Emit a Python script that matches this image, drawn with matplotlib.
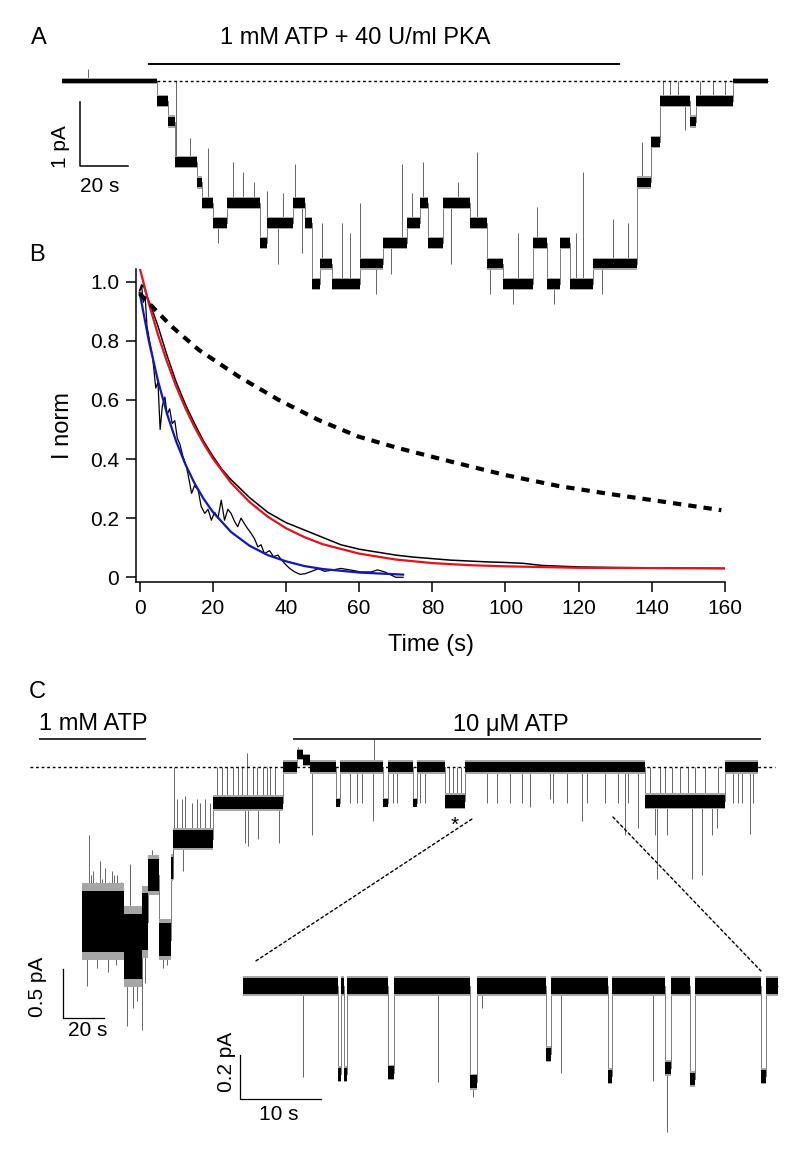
import numpy as np
import matplotlib.pyplot as plt
from matplotlib.patches import ConnectionPatch

plt.rcParams['font.family'] = ['Liberation Sans', 'DejaVu Sans']

# ---- panel A: patch recording, open channels vs time (s) ----
a_unit = 0.317  # pA per channel
a_t = [0, 39.6, 44.2, 47.1, 56.3, 58.3, 62.9, 68.8, 82.5, 85.4, 96.3, 101.3, 104.2, 107.5,
       112.5, 124.2, 133.8, 143.8, 149.2, 152.5, 158.8, 170.0, 177.1, 183.8, 196.3, 202.1,
       207.5, 211.7, 221.3, 239.6, 245.4, 249.2, 261.7, 264.2, 279.6, 294.2]
a_n = [0, 1, 2, 4, 5, 6, 7, 6, 8, 7, 6, 7, 10, 9, 10, 9, 8, 7, 6, 8, 6, 7, 9, 10, 8, 10,
       8, 10, 9, 5, 3, 1, 2, 1, 0]
a_spike_t = [10.8, 47.5, 53.3, 60.8, 65, 71.3, 75.4, 80, 85.4, 90, 92, 97, 100, 108.3, 116.7,
             120, 124.2, 131, 137, 141.7, 146, 150.4, 162, 165, 172.9, 178.3, 188, 190, 197.9,
             205, 214, 217, 225, 229.6, 236, 241.7, 250.4, 253.3, 256.7, 259.6, 265.8, 271.3, 276.3]
a_spike_n = [-0.6, 0, 2.8, 3.3, 8, 4, 4.5, 5, 5.4, 9, 5.5, 4.1, 8.5, 7, 7,
             7.5, 6, 10.5, 9.5, 4.1, 5.5, 4, 9, 5, 3.5, 10.5, 11, 7.5, 6.2,
             11, 7.5, 4.5, 10.5, 6.8, 7, 3, 0, 0, 0, 2.4, 0, 0, 0]

# ---- panel B: normalised current decay ----
b_fit_t = [0, 2.5, 5, 7.5, 10, 12.5, 15, 17.5, 20, 25, 30, 35, 40, 45, 50, 60, 70, 80, 90,
           100, 120, 140, 160]
b_red = [1.047, 0.927, 0.821, 0.728, 0.645, 0.572, 0.508, 0.452, 0.402, 0.319, 0.255, 0.205,
         0.166, 0.136, 0.112, 0.080, 0.060, 0.048, 0.041, 0.037, 0.032, 0.031, 0.030]
b_blue_t = [0, 2.5, 5, 7.5, 10, 12.5, 15, 17.5, 20, 25, 30, 35, 40, 45, 50, 60, 72]
b_blue = [0.963, 0.800, 0.665, 0.552, 0.459, 0.382, 0.318, 0.265, 0.221, 0.153, 0.107, 0.075,
          0.054, 0.038, 0.028, 0.016, 0.009]
b_dash_t = [0, 1.6, 8.8, 16.2, 27.1, 38, 48.9, 59.8, 70.7, 85.2, 99.9, 114.4, 128.9, 143.5, 159]
b_dash = [0.96, 0.939, 0.848, 0.769, 0.679, 0.600, 0.532, 0.476, 0.437, 0.391, 0.346, 0.309,
          0.281, 0.255, 0.227]
b_slow_t = [0, 1, 2, 3, 5, 7.5, 10, 12.5, 15, 17.5, 20, 22.5, 25, 30, 35, 40, 45, 50, 55, 60,
            65, 70, 75, 80, 85, 90, 95, 100, 105, 110, 120, 130, 140, 150, 160]
b_slow = [0.97, 0.99, 0.95, 0.92, 0.85, 0.75, 0.66, 0.585, 0.52, 0.46, 0.41, 0.365, 0.33, 0.27,
          0.22, 0.185, 0.16, 0.135, 0.11, 0.095, 0.085, 0.075, 0.068, 0.063, 0.058, 0.055,
          0.052, 0.05, 0.047, 0.04, 0.035, 0.033, 0.032, 0.031, 0.03]
b_fast_t = [0, 0.5, 1, 1.5, 2, 2.7, 3.5, 4.4, 5.0, 5.6, 6.2, 6.9, 7.5, 8.2, 8.9, 9.6, 10.3, 11,
            11.8, 12.8, 13.5, 14.2, 15.0, 16, 16.8, 17.8, 18.7, 19.6, 20.5, 21.4, 22.3, 23.2,
            24.1, 25, 25.9, 26.8, 27.7, 28.6, 29.5, 30.5, 31.4, 32.3, 33.2, 34.1, 35.5, 36.6,
            37.8, 38.7, 39.6, 41, 42.4, 43.8, 45.2, 47, 48.8, 50.6, 52.4, 55, 57.9, 60.5, 63.3,
            65, 67, 70, 72]
b_fast = [0.97, 0.99, 0.93, 0.95, 0.85, 0.80, 0.75, 0.64, 0.66, 0.50, 0.58, 0.61, 0.55, 0.57,
          0.52, 0.53, 0.47, 0.45, 0.41, 0.374, 0.33, 0.284, 0.31, 0.295, 0.24, 0.216, 0.23,
          0.193, 0.22, 0.20, 0.261, 0.193, 0.23, 0.216, 0.19, 0.171, 0.20, 0.182, 0.165, 0.148,
          0.13, 0.103, 0.11, 0.080, 0.09, 0.07, 0.075, 0.06, 0.047, 0.03, 0.018, 0.01, 0.012,
          0.02, 0.029, 0.02, 0.024, 0.03, 0.024, 0.018, 0.018, 0.025, 0.018, 0.0, 0.0]

# ---- panel C: main recording ----
c_unit = 0.367
c_t = [0, 20.5, 29.3, 32.2, 37.6, 43.4, 44.4, 63.9, 98.0, 104.9, 108.0, 111.2, 123.9, 125.9,
       146.8, 149.3, 161.5, 163.4, 177.1, 186.8, 274.6, 313.7, 329.8]
c_n = [4.3, 5.0, 4.3, 3.0, 4.8, 2.8, 2.0, 1.0, 0.0, -0.35, -0.2, 0.0, 1.0, 0.0, 1.0, 0.0,
       1.0, 0.0, 0.95, 0.0, 0.95, 0.0]
c_band = [0.85, 0.9, 0.8, 0.45, 0.45, 0.3, 0.25, 0.18, 0.15, 0.13, 0.13, 0.15, 0.1, 0.15, 0.1,
          0.15, 0.1, 0.15, 0.18, 0.15, 0.18, 0.15]
c_spike_t = [2.4, 3.4, 4.4, 5.4, 6.8, 7.3, 8.8, 9.8, 11.2, 12.7, 13.0, 14.6, 15.6, 16.6, 17.1,
             19.2, 22.0, 23.4, 24.9, 26.8, 29.3, 30.7, 34.1, 39.5, 41.5,
             44.6, 45.0, 46.3, 48.8, 49.3, 50.2, 53.7, 56.1, 57.6, 60.0, 62.4,
             65.9, 68.3, 70.7, 73.7, 76.1, 78.0, 79.5, 80.5, 81.0, 83.4, 85.4, 85.9, 88.3,
             90.2, 91.7, 94.1, 96.1,
             105.4, 112.2, 130.7, 134.1, 136.6, 142.0, 142.4, 151.7, 153.7, 164.9, 167.3,
             179, 181, 183, 185,
             197.6, 202.4, 208.8, 214.6, 218.5, 228.3, 229.8, 236.6, 243.9, 246.3, 255.1,
             261.5, 264.9, 266.3, 271.2,
             277.1, 279.5, 280.5, 281.9, 284.4, 285.4, 287.8, 291.7, 295.6, 297.6, 299.0,
             302.4, 303.9, 307.3, 309.8, 310.2,
             317.6, 320.0, 322.0, 325.9, 327.3]
c_spike_n = [6.1, 1.9, 3.0, 2.9, 3.2, 5.6, 2.6, 3.1, 2.8, 5.7, 3.2, 2.9, 3.0, 5.5, 3.0,
             3.2, 7.2, 2.7, 6.7, 6.5, 7.3, 6.0, 2.3, 5.6, 5.5,
             3.1, 0, 0.9, 0.9, 2.9, 0.8, 1.0, 0.9, 1.0, 0.9, 1.0,
             0, 0, 0, 0, 0, 0, 2.1, -0.4, 2.2, 0, 0, 2.0, 0,
             0, 0, 0, 2.1,
             -0.55, 1.9, 1.0, 1.0, 1.0, 1.5, -0.8, 1.0, 1.0, 1.0, 1.0,
             0, 0, 0, 0,
             1.0, 1.0, 1.0, 1.0, 1.1, 0.9, 1.0, 1.0, 1.5, 1.0, 1.0,
             1.0, 1.9, 1.0, 1.7,
             0, 1.9, 3.1, 0, 0, 1.9, 0, 0, 0, 3.1, 0,
             3.0, 0, 1.9, 1.7, 0,
             1.0, 1.0, 1.0, 1.85, 1.0]

# ---- panel C: expanded inset ----
in_unit = 0.414
in_t = [0, 11.74, 12.04, 12.47, 12.88, 17.9, 18.6, 28.0, 28.9, 37.4, 38.0, 45.1, 45.6, 52.1,
        52.8, 55.2, 55.8, 63.9, 64.6, 66.0]
in_n = [0, 0.97, 0, 0.97, 0, 0.95, 0, 1.05, 0, 0.75, 0, 0.99, 0, 0.9, 0, 1.02, 0, 0.99, 0]
in_spike_t = [7.4, 12.6, 24.1, 28.4, 29.5, 39.3, 50.6, 52.3]
in_spike_n = [1.0, 0.88, 1.05, 1.22, 0.24, 0.96, 1.04, 1.6]

W, H = 800, 1151
fig = plt.figure(figsize=(W / 100, H / 100), dpi=100)


def px_axes(x0, x1, y0, y1):
    """axes placed by pixel box (top-left origin), transparent background"""
    ax = fig.add_axes([x0 / W, 1 - y1 / H, (x1 - x0) / W, (y1 - y0) / H])
    ax.patch.set_visible(False)
    return ax


def draw_trace(ax, t, n, unit, band, spike_t, spike_n):
    """noise band (with grey fringe) + thin transitions + brief events"""
    t = np.asarray(t, float)
    cur = -np.asarray(n, float) * unit
    hw = np.asarray(band, float) * unit
    cur_p = np.append(cur, cur[-1])
    hw_p = np.append(hw, hw[-1])
    ax.step(t, cur_p, where='post', color='0.4', lw=0.6, zorder=1)
    ax.fill_between(t, cur_p - 1.25 * hw_p, cur_p + 1.25 * hw_p, step='post',
                    color='0.65', lw=0, zorder=2)
    ax.fill_between(t, cur_p - hw_p, cur_p + hw_p, step='post', color='black', lw=0, zorder=3)
    idx = np.searchsorted(t, spike_t, side='right') - 1
    ax.vlines(spike_t, cur[idx], -np.asarray(spike_n) * unit, color='0.4', lw=0.7, zorder=1)


dotted = (0, (2, 2))

# ---------------- A ----------------
ax_a = px_axes(20, 790, 15, 320)
ax_a.set_xlim(-17.5, 303.33)
ax_a.set_ylim(-3.734, 1.031)
ax_a.axis('off')
a_band = np.where(np.array(a_n) == 0, 0.1, 0.24)
draw_trace(ax_a, a_t, a_n, a_unit, a_band, a_spike_t, a_spike_n)
ax_a.hlines(0, a_t[1], a_t[-2], color='black', lw=1.0, linestyles=dotted)
ax_a.hlines(0.266, 35.8, 232.5, color='black', lw=1.4)
ax_a.text(122, 0.672, '1 mM ATP + 40 U/ml PKA', fontsize=17, ha='center', va='center')
ax_a.plot([7.3, 7.3, 27.3], [-0.328, -1.328, -1.328], color='black', lw=1.1)
ax_a.text(-0.8, -1.02, '1 pA', fontsize=15, rotation=90, ha='center', va='center')
ax_a.text(15.8, -1.656, '20 s', fontsize=15, ha='center', va='center')
fig.text(39 / W, 1 - 38 / H, 'A', fontsize=17, ha='center', va='center')

# ---------------- B ----------------
ax_b = px_axes(136, 725, 269, 582)
ax_b.plot(b_slow_t, b_slow, color='black', lw=1.1)
ax_b.plot(b_fast_t, b_fast, color='black', lw=0.9)
ax_b.plot(b_fit_t, b_red, color='#e8101a', lw=1.6)
ax_b.plot(b_blue_t, b_blue, color='#1414c0', lw=1.6)
ax_b.plot(b_dash_t, b_dash, color='black', lw=3, linestyle=(0, (2.0, 1.7)))
ax_b.set_xlim(-1, 160)
ax_b.set_ylim(-0.016, 1.043)
ax_b.spines[['top', 'right']].set_visible(False)
for s in ['left', 'bottom']:
    ax_b.spines[s].set_linewidth(1.1)
ax_b.set_xticks(range(0, 161, 20))
ax_b.set_yticks([0, 0.2, 0.4, 0.6, 0.8, 1.0])
ax_b.set_yticklabels(['0', '0.2', '0.4', '0.6', '0.8', '1.0'])
ax_b.tick_params(direction='out', length=7, width=1.1, labelsize=15, pad=5)
ax_b.set_xlabel('Time (s)', fontsize=17, labelpad=12)
ax_b.set_ylabel('I norm', fontsize=17, labelpad=12)
fig.text(37 / W, 1 - 255 / H, 'B', fontsize=17, ha='center', va='center')

# ---------------- C ----------------
ax_c = px_axes(20, 790, 700, 1060)
ax_c.set_xlim(-30.24, 345.37)
ax_c.set_ylim(-2.990, 0.684)
ax_c.axis('off')
draw_trace(ax_c, c_t, c_n, c_unit, c_band, c_spike_t, c_spike_n)
ax_c.hlines(0, -25.4, 338, color='black', lw=1.0, linestyles=dotted, zorder=4)
ax_c.hlines(0.286, -21, 31.2, color='0.2', lw=1.4)
ax_c.hlines(0.286, 102.9, 331.2, color='0.2', lw=1.4)
ax_c.text(5.4, 0.439, '1 mM ATP', fontsize=17, ha='center', va='center')
ax_c.text(209.3, 0.429, '10 \u03bcM ATP', fontsize=17, ha='center', va='center')
ax_c.text(182, -0.59, '*', fontsize=15, ha='center', va='center')
ax_c.plot([-9.27, -9.27, 10.73], [-2.061, -2.561, -2.561], color='black', lw=0.9)
ax_c.text(-21.5, -2.245, '0.5 pA', fontsize=15, rotation=90, ha='center', va='center')
ax_c.text(2.9, -2.684, '20 s', fontsize=15, ha='center', va='center')
fig.text(37 / W, 1 - 692 / H, 'C', fontsize=17, ha='center', va='center')

ax_in = px_axes(200, 790, 940, 1140)
ax_in.set_xlim(-5.31, 67.53)
ax_in.set_ylim(-0.70, 0.209)
ax_in.axis('off')
in_band = np.where(np.array(in_n) == 0, 0.085, 0.07)
draw_trace(ax_in, in_t, in_n, in_unit, in_band, in_spike_t, in_spike_n)
ax_in.plot([-0.37, -0.37, 9.63], [-0.3136, -0.5136, -0.5136], color='black', lw=0.9)
ax_in.text(-2.1, -0.345, '0.2 pA', fontsize=15, rotation=90, ha='center', va='center')
ax_in.text(4.44, -0.586, '10 s', fontsize=15, ha='center', va='center')

# dotted zoom lines from main trace to inset
for (tm, im), (ti, ii) in [((190.2, -0.531), (1.6, 0.114)), ((259.0, -0.510), (63.95, 0.068))]:
    con = ConnectionPatch(xyA=(tm, im), coordsA=ax_c.transData,
                          xyB=(ti, ii), coordsB=ax_in.transData,
                          color='black', lw=1.0, linestyle=dotted)
    fig.add_artist(con)

fig.savefig('out.png', dpi=100)
